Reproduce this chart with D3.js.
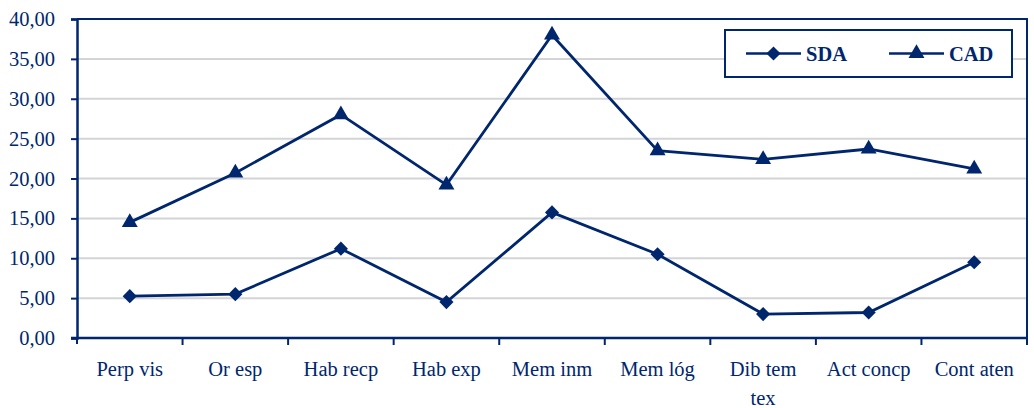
<!DOCTYPE html>
<html>
<head>
<meta charset="utf-8">
<script src="https://cdn.jsdelivr.net/npm/d3@7"></script>
<style>
  body { margin: 0; background: #fff; }
  svg { display: block; font-family: "Liberation Serif", "Times New Roman", serif; }
</style>
</head>
<body>
<div id="chart1"></div>
<script>
const categories = ["Perp vis", "Or esp", "Hab recp", "Hab exp", "Mem inm", "Mem lóg", "Dib tem tex", "Act concp", "Cont aten"];
const sda = [5.25, 5.5, 11.2, 4.5, 15.75, 10.5, 3.0, 3.2, 9.5];
const cad = [14.5, 20.7, 28.0, 19.2, 38.0, 23.5, 22.4, 23.7, 21.2];
const yTicks = [0, 5, 10, 15, 20, 25, 30, 35, 40];

const width = 1034;
const height = 408;
const margin = ({top: 19, right: 7, bottom: 70, left: 77});
const navy = "#00266e";

const svg = d3.select("#chart1")
    .append("svg")
    .attr("width", width)
    .attr("height", height)
    .attr("viewBox", [0, 0, width, height]);

const x = d3.scaleBand()
    .domain(categories)
    .range([margin.left, width - margin.right]);

const y = d3.scaleLinear()
    .domain([0, 40])
    .range([height - margin.bottom, margin.top]);

// gridlines
svg.append("g")
    .selectAll("line")
    .data(yTicks.filter(d => d > 0 && d < 40))
    .join("line")
    .attr("x1", margin.left)
    .attr("x2", width - margin.right)
    .attr("y1", d => y(d))
    .attr("y2", d => y(d))
    .attr("stroke", "#d3d4d8")
    .attr("stroke-width", 2);

// plot border (top and right)
svg.append("path")
    .attr("d", `M${margin.left},${y(40)}H${width - margin.right}V${y(0)}`)
    .attr("fill", "none")
    .attr("stroke", navy)
    .attr("stroke-width", 2);

// y axis
const yAxis = svg.append("g")
    .attr("transform", `translate(${margin.left},0)`)
    .call(d3.axisLeft(y).tickValues(yTicks).tickSize(6).tickPadding(16)
        .tickFormat(d => d3.format(".2f")(d).replace(".", ",")));
yAxis.attr("font-family", null);
yAxis.select(".domain").attr("stroke", navy).attr("stroke-width", 2.5);
yAxis.selectAll(".tick line").attr("stroke", navy).attr("stroke-width", 2);
yAxis.selectAll("text")
    .attr("fill", navy)
    .style("font-size", "20.5px")
    .style("font-family", "Liberation Serif, serif");

// x axis: ticks between categories
const xAxis = svg.append("g")
    .attr("transform", `translate(0,${y(0)})`);
xAxis.append("line")
    .attr("x1", margin.left - 6)
    .attr("x2", width - margin.right)
    .attr("stroke", navy)
    .attr("stroke-width", 2.5);
xAxis.selectAll(".xt")
    .data(categories)
    .join("line")
    .attr("class", "xt")
    .attr("x1", d => x(d) + x.bandwidth())
    .attr("x2", d => x(d) + x.bandwidth())
    .attr("y1", 0)
    .attr("y2", 7)
    .attr("stroke", navy)
    .attr("stroke-width", 2);
xAxis.append("line")
    .attr("x1", margin.left).attr("x2", margin.left)
    .attr("y1", 0).attr("y2", 6)
    .attr("stroke", navy).attr("stroke-width", 2);

const labels = xAxis.selectAll(".xl")
    .data(categories)
    .join("text")
    .attr("class", "xl")
    .attr("x", d => x(d) + x.bandwidth() / 2)
    .attr("y", 38)
    .attr("text-anchor", "middle")
    .attr("fill", navy)
    .style("font-size", "20.5px");
labels.each(function(d) {
    const t = d3.select(this);
    const parts = d === "Dib tem tex" ? ["Dib tem", "tex"] : [d];
    parts.forEach((p, i) => {
        t.append("tspan")
            .attr("x", x(d) + x.bandwidth() / 2)
            .attr("dy", i === 0 ? 0 : 29)
            .text(p);
    });
});

// lines
const cx = (d, i) => x(categories[i]) + x.bandwidth() / 2;
const line = d3.line().x(cx).y(d => y(d));

const diamond = d3.symbol().type(d3.symbolSquare).size(100);
const triangle = d3.symbol().type(d3.symbolTriangle).size(110);

function drawSeries(values, symbol, rotate) {
    svg.append("path")
        .datum(values)
        .attr("fill", "none")
        .attr("stroke", navy)
        .attr("stroke-width", 2.8)
        .attr("d", line);
    svg.append("g")
        .selectAll("path")
        .data(values)
        .join("path")
        .attr("d", symbol)
        .attr("fill", navy)
        .attr("transform", (d, i) => `translate(${cx(d, i)},${y(d)}) rotate(${rotate})`);
}
drawSeries(sda, diamond, 45);
drawSeries(cad, triangle, 0);

// legend
const legend = svg.append("g");
legend.append("rect")
    .attr("x", 725).attr("y", 30)
    .attr("width", 287).attr("height", 47)
    .attr("fill", "#fff")
    .attr("stroke", navy)
    .attr("stroke-width", 2);
const items = [
    {name: "SDA", sym: diamond, rot: 45, x0: 746},
    {name: "CAD", sym: triangle, rot: 0, x0: 889}
];
items.forEach(it => {
    legend.append("line")
        .attr("x1", it.x0).attr("x2", it.x0 + 55)
        .attr("y1", 53.5).attr("y2", 53.5)
        .attr("stroke", navy).attr("stroke-width", 2.5);
    legend.append("path")
        .attr("d", it.sym)
        .attr("fill", navy)
        .attr("transform", `translate(${it.x0 + 27.5},53.5) rotate(${it.rot})`);
    legend.append("text")
        .attr("x", it.x0 + 60)
        .attr("y", 60.5)
        .attr("fill", navy)
        .style("font-size", "20.5px")
        .style("font-weight", "bold")
        .text(it.name);
});
</script>
</body>
</html>
